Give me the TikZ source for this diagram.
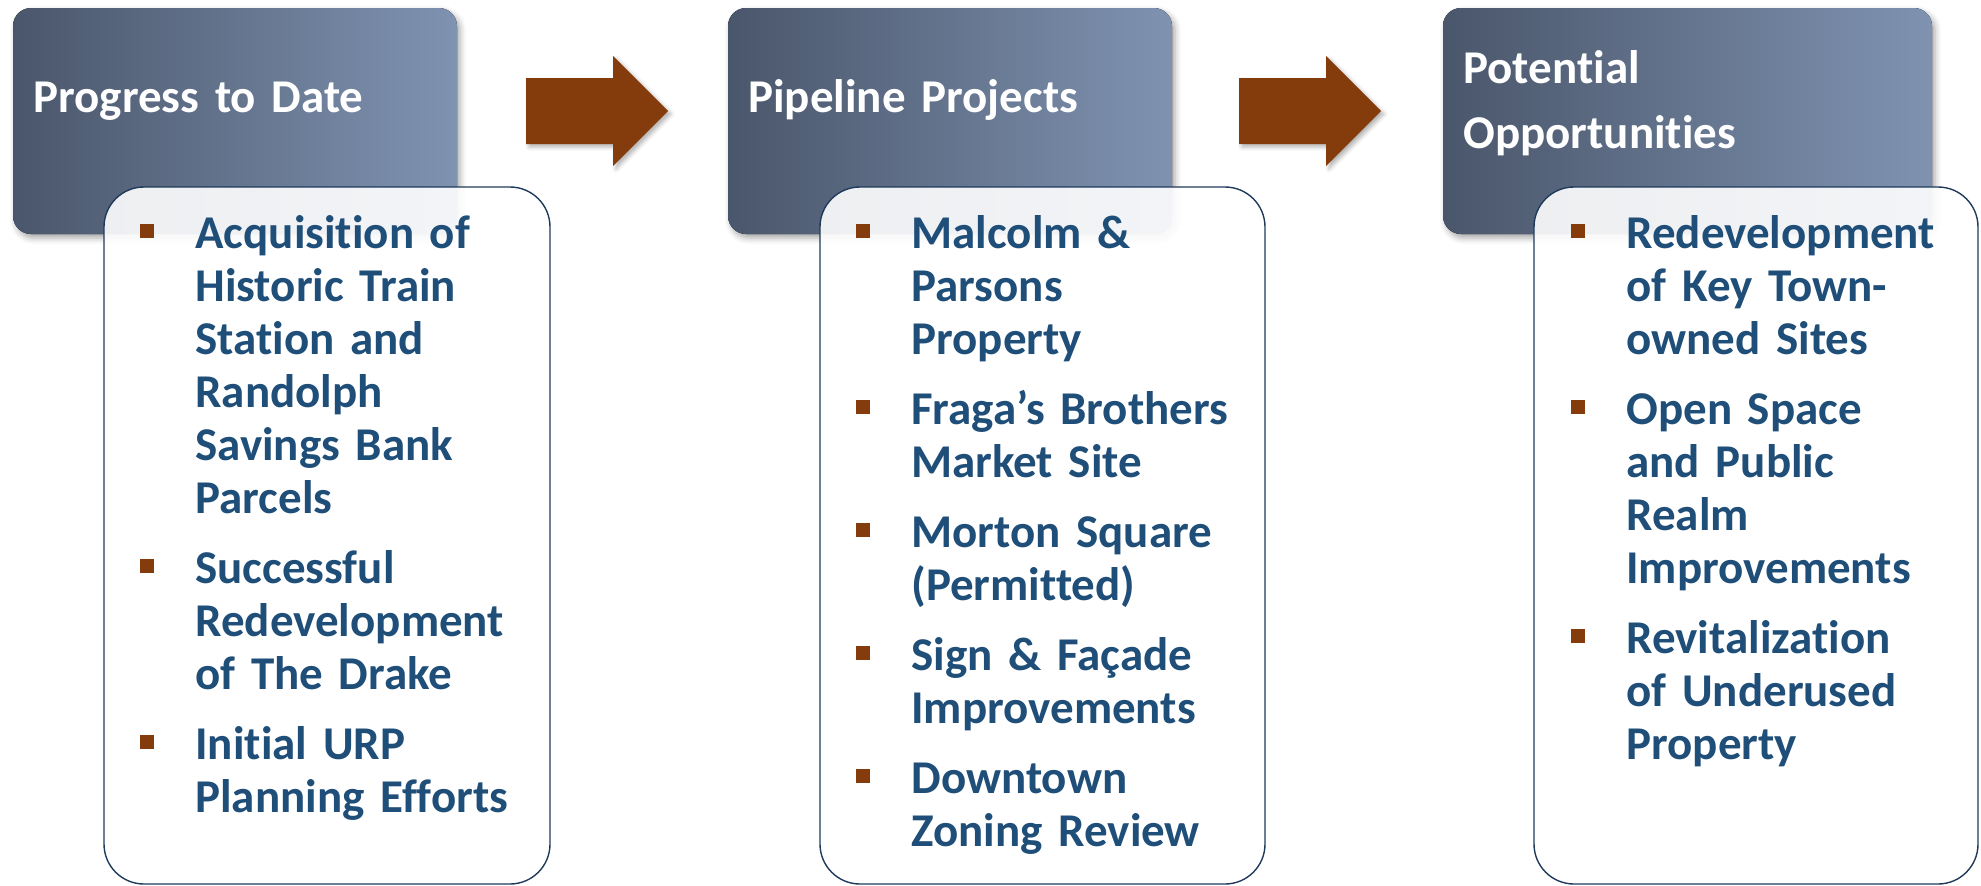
\documentclass[tikz,border=0pt]{standalone}
\usepackage{fontspec}
\setmainfont{Carlito}[Ligatures=NoCommon]
\usepackage{tikz}
\usetikzlibrary{shadows.blur}
\usepackage{xcolor}
\definecolor{slatedark}{HTML}{4A566B}
\definecolor{slatelight}{HTML}{7F93B1}
\definecolor{rust}{HTML}{843C0C}
\definecolor{inkblue}{HTML}{1F4E79}
\definecolor{framenavy}{HTML}{1F3A5A}

\begin{document}
\begin{tikzpicture}[x=0.5pt, y=-0.5pt,
  header/.style={rounded corners=9pt, left color=slatedark, right color=slatelight,
    blur shadow={shadow xshift=1.5pt, shadow yshift=-2pt, shadow blur radius=3pt, shadow opacity=35}},
  panel/.style={rounded corners=20pt, draw=framenavy, line width=0.7pt, fill=white, fill opacity=0.9},
  flow/.style={fill=rust, blur shadow={shadow xshift=1.5pt, shadow yshift=-1.5pt, shadow blur radius=2pt, shadow opacity=30}},
  title/.style={anchor=base west, inner sep=0pt, text=white, text width=220pt, align=left,
    font=\fontsize{23.5}{32.5}\selectfont\bfseries},
  item/.style={anchor=base west, inner sep=0pt, text=inkblue, text width=180pt, align=left,
    font=\fontsize{23.5}{26.55}\selectfont\bfseries},
  bullet/.style={fill=rust, minimum size=7pt, inner sep=0pt}]
  \useasboundingbox (0,0) rectangle (1981,885);

  % stage headers
  \fill[header] (13,8) rectangle (457,234);
  \fill[header] (728,8) rectangle (1172,234);
  \fill[header] (1443,8) rectangle (1932,234);

  % list panels, laid over the headers
  \draw[panel] (104,187) rectangle (550,884);
  \draw[panel] (820,187) rectangle (1265,884);
  \draw[panel] (1534,187) rectangle (1978,884);

  % block arrows between the stages
  \fill[flow] (526,78) -- (613,78) -- (613,56) -- (668,111) -- (613,166) -- (613,144) -- (526,144) -- cycle;
  \fill[flow] (1239,78) -- (1326,78) -- (1326,56) -- (1381,111) -- (1326,166) -- (1326,144) -- (1239,144) -- cycle;

  \node[title] (progress) at (33,112) {Progress to Date};
  \node[title] (pipeline) at (748,112) {Pipeline Projects};
  \node[title] (potential) at (1463,83) {Potential\\Opportunities};

  % progress to date
  \node[item] (acq) at (195,248) {Acquisition of\\Historic Train\\Station and\\Randolph\\Savings Bank\\Parcels};
  \node[item] (drake) at (195,583) {Successful\\Redevelopment\\of The Drake};
  \node[item] (urp) at (195,759) {Initial URP\\Planning Efforts};

  % pipeline projects
  \node[item] (malcolm) at (911,248) {Malcolm \&\\Parsons\\Property};
  \node[item] (fraga) at (911,424) {Fraga’s Brothers\\Market Site};
  \node[item] (morton) at (911,547) {Morton Square\\(Permitted)};
  \node[item] (facade) at (911,670) {Sign \& Façade\\Improvements};
  \node[item] (zoning) at (911,793) {Downtown\\Zoning Review};

  % potential opportunities
  \node[item] (sites) at (1626,248) {Redevelopment\\of Key Town-\\owned Sites};
  \node[item] (realm) at (1626,424) {Open Space\\and Public\\Realm\\Improvements};
  \node[item] (underused) at (1626,653) {Revitalization\\of Underused\\Property};

  \node[bullet] (b-acq) at ([xshift=-24pt,yshift=8.5pt]acq.base west) {};
  \node[bullet] (b-drake) at ([xshift=-24pt,yshift=8.5pt]drake.base west) {};
  \node[bullet] (b-urp) at ([xshift=-24pt,yshift=8.5pt]urp.base west) {};
  \node[bullet] (b-malcolm) at ([xshift=-24pt,yshift=8.5pt]malcolm.base west) {};
  \node[bullet] (b-fraga) at ([xshift=-24pt,yshift=8.5pt]fraga.base west) {};
  \node[bullet] (b-morton) at ([xshift=-24pt,yshift=8.5pt]morton.base west) {};
  \node[bullet] (b-facade) at ([xshift=-24pt,yshift=8.5pt]facade.base west) {};
  \node[bullet] (b-zoning) at ([xshift=-24pt,yshift=8.5pt]zoning.base west) {};
  \node[bullet] (b-sites) at ([xshift=-24pt,yshift=8.5pt]sites.base west) {};
  \node[bullet] (b-realm) at ([xshift=-24pt,yshift=8.5pt]realm.base west) {};
  \node[bullet] (b-underused) at ([xshift=-24pt,yshift=8.5pt]underused.base west) {};
\end{tikzpicture}
\end{document}
